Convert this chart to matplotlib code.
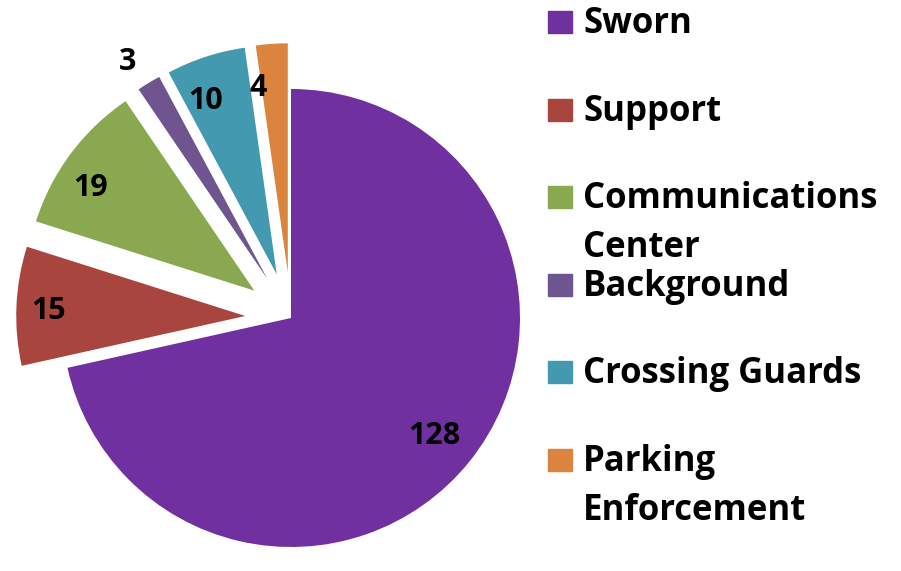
import matplotlib.pyplot as plt
from matplotlib.patches import Rectangle
import numpy as np

labels = ['Sworn', 'Support', 'Communications\nCenter', 'Background',
          'Crossing Guards', 'Parking\nEnforcement']
values = [128, 15, 19, 3, 10, 4]
colors = ['#7030A0', '#A8453F', '#8AA84F', '#6E5590', '#4299B0', '#DB843D']
explode = [0, 0.2, 0.2, 0.2, 0.2, 0.2]

plt.rcParams['font.family'] = ['Open Sans', 'DejaVu Sans']

W, H = 901, 571
fig = plt.figure(figsize=(W / 100, H / 100), dpi=100)

# pie axes: centre at (291, 318) px, radius 229 px
cx, cy, r = 291, 318, 229
pw = 530
ax = fig.add_axes([0, 0, pw / W, 1])
wedges, _ = ax.pie(values, colors=colors, explode=explode, startangle=90,
                   counterclock=False, radius=1)
ax.set_xlim(-cx / r, (pw - cx) / r)
ax.set_ylim(-(H - cy) / r, cy / r)
ax.set_aspect('equal', adjustable='datalim')
ax.axis('off')

# value labels
dists = [0.80, 0.86, 0.85, 1.14, 0.83, 0.83]
shift = [0, 0, 3, 1, 3, 4]  # small angular nudge, degrees
for w, v, d, e, s in zip(wedges, values, dists, explode, shift):
    ang = np.deg2rad((w.theta1 + w.theta2) / 2 + s)
    x = (d + e) * np.cos(ang)
    y = (d + e) * np.sin(ang)
    ax.text(x, y, str(v), ha='center', va='center_baseline', fontsize=22,
            fontweight='bold', color='black')

# legend
top = 22
step = 87.6
for i, (lab, col) in enumerate(zip(labels, colors)):
    yc = top + i * step
    fig.add_artist(Rectangle((548 / W, 1 - (yc + 11) / H), 24 / W, 22 / H,
                             transform=fig.transFigure, color=col))
    first, *rest = lab.split('\n')
    fig.text(583 / W, 1 - (yc + 11) / H, first, ha='left', va='baseline',
             fontsize=25, fontweight='bold')
    for j, line in enumerate(rest):
        fig.text(583 / W, 1 - (yc + 11 + 49 * (j + 1)) / H, line, ha='left',
                 va='baseline', fontsize=25, fontweight='bold')

fig.savefig('out.png', dpi=100)
